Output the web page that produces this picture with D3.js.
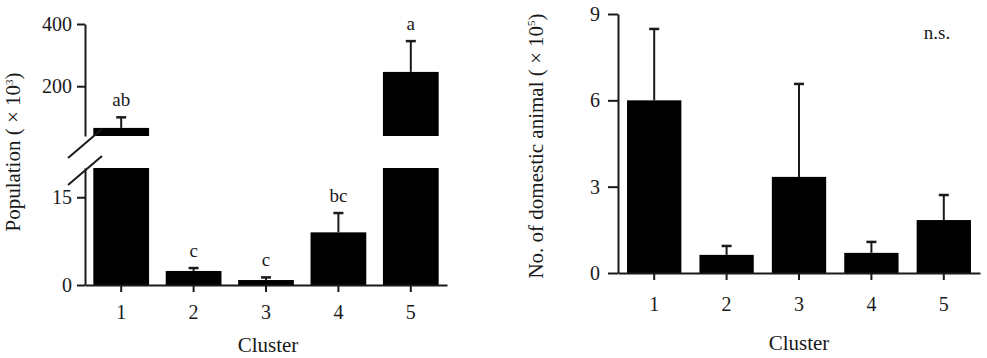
<!DOCTYPE html>
<html>
<head>
<meta charset="utf-8">
<script src="https://cdn.jsdelivr.net/npm/d3@7/dist/d3.min.js"></script>
<style>
  html, body { margin: 0; padding: 0; background: #fff; }
  svg { display: block; }
  text { font-family: "Liberation Serif", "DejaVu Serif", serif; fill: #1a1a1a; }
</style>
</head>
<body>
<svg id="chart" width="987" height="358"></svg>
<script>
// ---------- data ----------
const clusters = ["1", "2", "3", "4", "5"];

// Left panel: population (x 10^3), with broken axis
const popMean = [66, 2.4, 0.85, 9.0, 246];
const popErr = [34, 0.5, 0.45, 3.3, 99];
const popLetters = ["ab", "c", "c", "bc", "a"];
const popLowerTicks = [0, 15];
const popUpperTicks = [200, 400];
const popLowerDomain = [0, 20];
const popUpperDomain = [40, 400];

// Right panel: number of domestic animals (x 10^5)
const animalMean = [6.0, 0.63, 3.34, 0.70, 1.84];
const animalErr = [2.48, 0.31, 3.23, 0.38, 0.87];
const animalTicks = [0, 3, 6, 9];
const animalDomain = [0, 9];

// ---------- drawing ----------
const svg = d3.select("#chart");
const ink = "#1a1a1a";
const fs = 20;      // tick labels
const fsT = 21;     // axis titles
const fsL = 19;     // significance letters

// ===== Left panel =====
const L = { x0: 85, x1: 447, yBase: 285, lowTop: 168, upBottom: 136, upTop: 24 };
const xL = d3.scaleBand().domain(clusters).range([L.x0, L.x1]).paddingInner(0.23).paddingOuter(0.115);
const yLow = d3.scaleLinear().domain(popLowerDomain).range([L.yBase, L.lowTop]);
const yUp = d3.scaleLinear().domain(popUpperDomain).range([L.upBottom, L.upTop]);
const gL = svg.append("g");
const lowMax = popLowerDomain[1];

// bars
clusters.forEach((c, i) => {
  const x = xL(c), w = xL.bandwidth(), v = popMean[i];
  if (v <= lowMax) {
    gL.append("rect").attr("x", x).attr("width", w)
      .attr("y", yLow(v)).attr("height", L.yBase - yLow(v)).attr("fill", "#000");
  } else {
    gL.append("rect").attr("x", x).attr("width", w)
      .attr("y", L.lowTop).attr("height", L.yBase - L.lowTop).attr("fill", "#000");
    gL.append("rect").attr("x", x).attr("width", w)
      .attr("y", yUp(v)).attr("height", L.upBottom - yUp(v)).attr("fill", "#000");
  }
  // error bar (upper only)
  const top = v + popErr[i];
  const yv = v <= lowMax ? yLow(v) : yUp(v);
  const ye = top <= lowMax ? yLow(top) : yUp(top);
  const cx = x + w / 2;
  gL.append("line").attr("x1", cx).attr("x2", cx).attr("y1", yv).attr("y2", ye)
    .attr("stroke", ink).attr("stroke-width", 2);
  gL.append("line").attr("x1", cx - 5).attr("x2", cx + 5).attr("y1", ye).attr("y2", ye)
    .attr("stroke", ink).attr("stroke-width", 2.5);
  gL.append("text").attr("x", cx).attr("y", ye - 11).attr("text-anchor", "middle")
    .attr("font-size", fsL).text(popLetters[i]);
});

// axes
const axLow = gL.append("g").attr("transform", `translate(${L.x0},0)`)
  .call(d3.axisLeft(yLow).tickValues(popLowerTicks).tickSize(8).tickSizeOuter(0).tickPadding(5));
const axUp = gL.append("g").attr("transform", `translate(${L.x0},0)`)
  .call(d3.axisLeft(yUp).tickValues(popUpperTicks).tickSize(8).tickSizeOuter(0).tickPadding(5));
const axXL = gL.append("g").attr("transform", `translate(0,${L.yBase})`)
  .call(d3.axisBottom(xL).tickSize(7).tickSizeOuter(0).tickPadding(13));
[axLow, axUp, axXL].forEach(a => {
  a.select(".domain").attr("stroke", ink).attr("stroke-width", 2);
  a.selectAll(".tick line").attr("stroke", ink).attr("stroke-width", 2);
  a.selectAll(".tick text").attr("font-size", fs).attr("font-family", "Liberation Serif").attr("fill", ink);
});
// break marks
[[158, 129], [185, 156]].forEach(([ya, yb]) => {
  gL.append("line").attr("x1", L.x0 - 17).attr("y1", ya).attr("x2", L.x0 + 17).attr("y2", yb)
    .attr("stroke", ink).attr("stroke-width", 2);
});
// axis titles
gL.append("text").attr("transform", "translate(20,152) rotate(-90)").attr("text-anchor", "middle")
  .attr("font-size", fsT)
  .call(t => { t.append("tspan").text("Population ( × 10");
               t.append("tspan").attr("font-size", 11).attr("dy", -7).text("3");
               t.append("tspan").attr("dy", 7).text(")"); });
gL.append("text").attr("x", (L.x0 + L.x1) / 2 + 2).attr("y", 352).attr("text-anchor", "middle")
  .attr("font-size", fsT).text("Cluster");

// ===== Right panel =====
const R = { x0: 618, x1: 980, yBase: 273, yTop: 14 };
const xR = d3.scaleBand().domain(clusters).range([R.x0, R.x1]).paddingInner(0.25).paddingOuter(0.125);
const yR = d3.scaleLinear().domain(animalDomain).range([R.yBase, R.yTop]);
const gR = svg.append("g");
clusters.forEach((c, i) => {
  const x = xR(c), w = xR.bandwidth(), v = animalMean[i];
  gR.append("rect").attr("x", x).attr("width", w).attr("y", yR(v))
    .attr("height", R.yBase - yR(v)).attr("fill", "#000");
  const cx = x + w / 2, ye = yR(v + animalErr[i]);
  gR.append("line").attr("x1", cx).attr("x2", cx).attr("y1", yR(v)).attr("y2", ye)
    .attr("stroke", ink).attr("stroke-width", 2);
  gR.append("line").attr("x1", cx - 5).attr("x2", cx + 5).attr("y1", ye).attr("y2", ye)
    .attr("stroke", ink).attr("stroke-width", 2.5);
});
const axYR = gR.append("g").attr("transform", `translate(${R.x0},0)`)
  .call(d3.axisLeft(yR).tickValues(animalTicks).tickSize(10).tickSizeOuter(0).tickPadding(8));
const axXR = gR.append("g").attr("transform", `translate(0,${R.yBase})`)
  .call(d3.axisBottom(xR).tickSize(7).tickSizeOuter(0).tickPadding(17));
[axYR, axXR].forEach(a => {
  a.select(".domain").attr("stroke", ink).attr("stroke-width", 2);
  a.selectAll(".tick line").attr("stroke", ink).attr("stroke-width", 2);
  a.selectAll(".tick text").attr("font-size", fs).attr("font-family", "Liberation Serif").attr("fill", ink);
});
gR.append("text").attr("transform", "translate(543,146) rotate(-90)").attr("text-anchor", "middle")
  .attr("font-size", fsT)
  .call(t => { t.append("tspan").text("No. of domestic animal ( × 10");
               t.append("tspan").attr("font-size", 11).attr("dy", -8).text("5");
               t.append("tspan").attr("dy", 8).text(")"); });
gR.append("text").attr("x", 799).attr("y", 350).attr("text-anchor", "middle")
  .attr("font-size", fsT).text("Cluster");
gR.append("text").attr("x", 937).attr("y", 39).attr("text-anchor", "middle")
  .attr("font-size", fsL).text("n.s.");
</script>
</body>
</html>
